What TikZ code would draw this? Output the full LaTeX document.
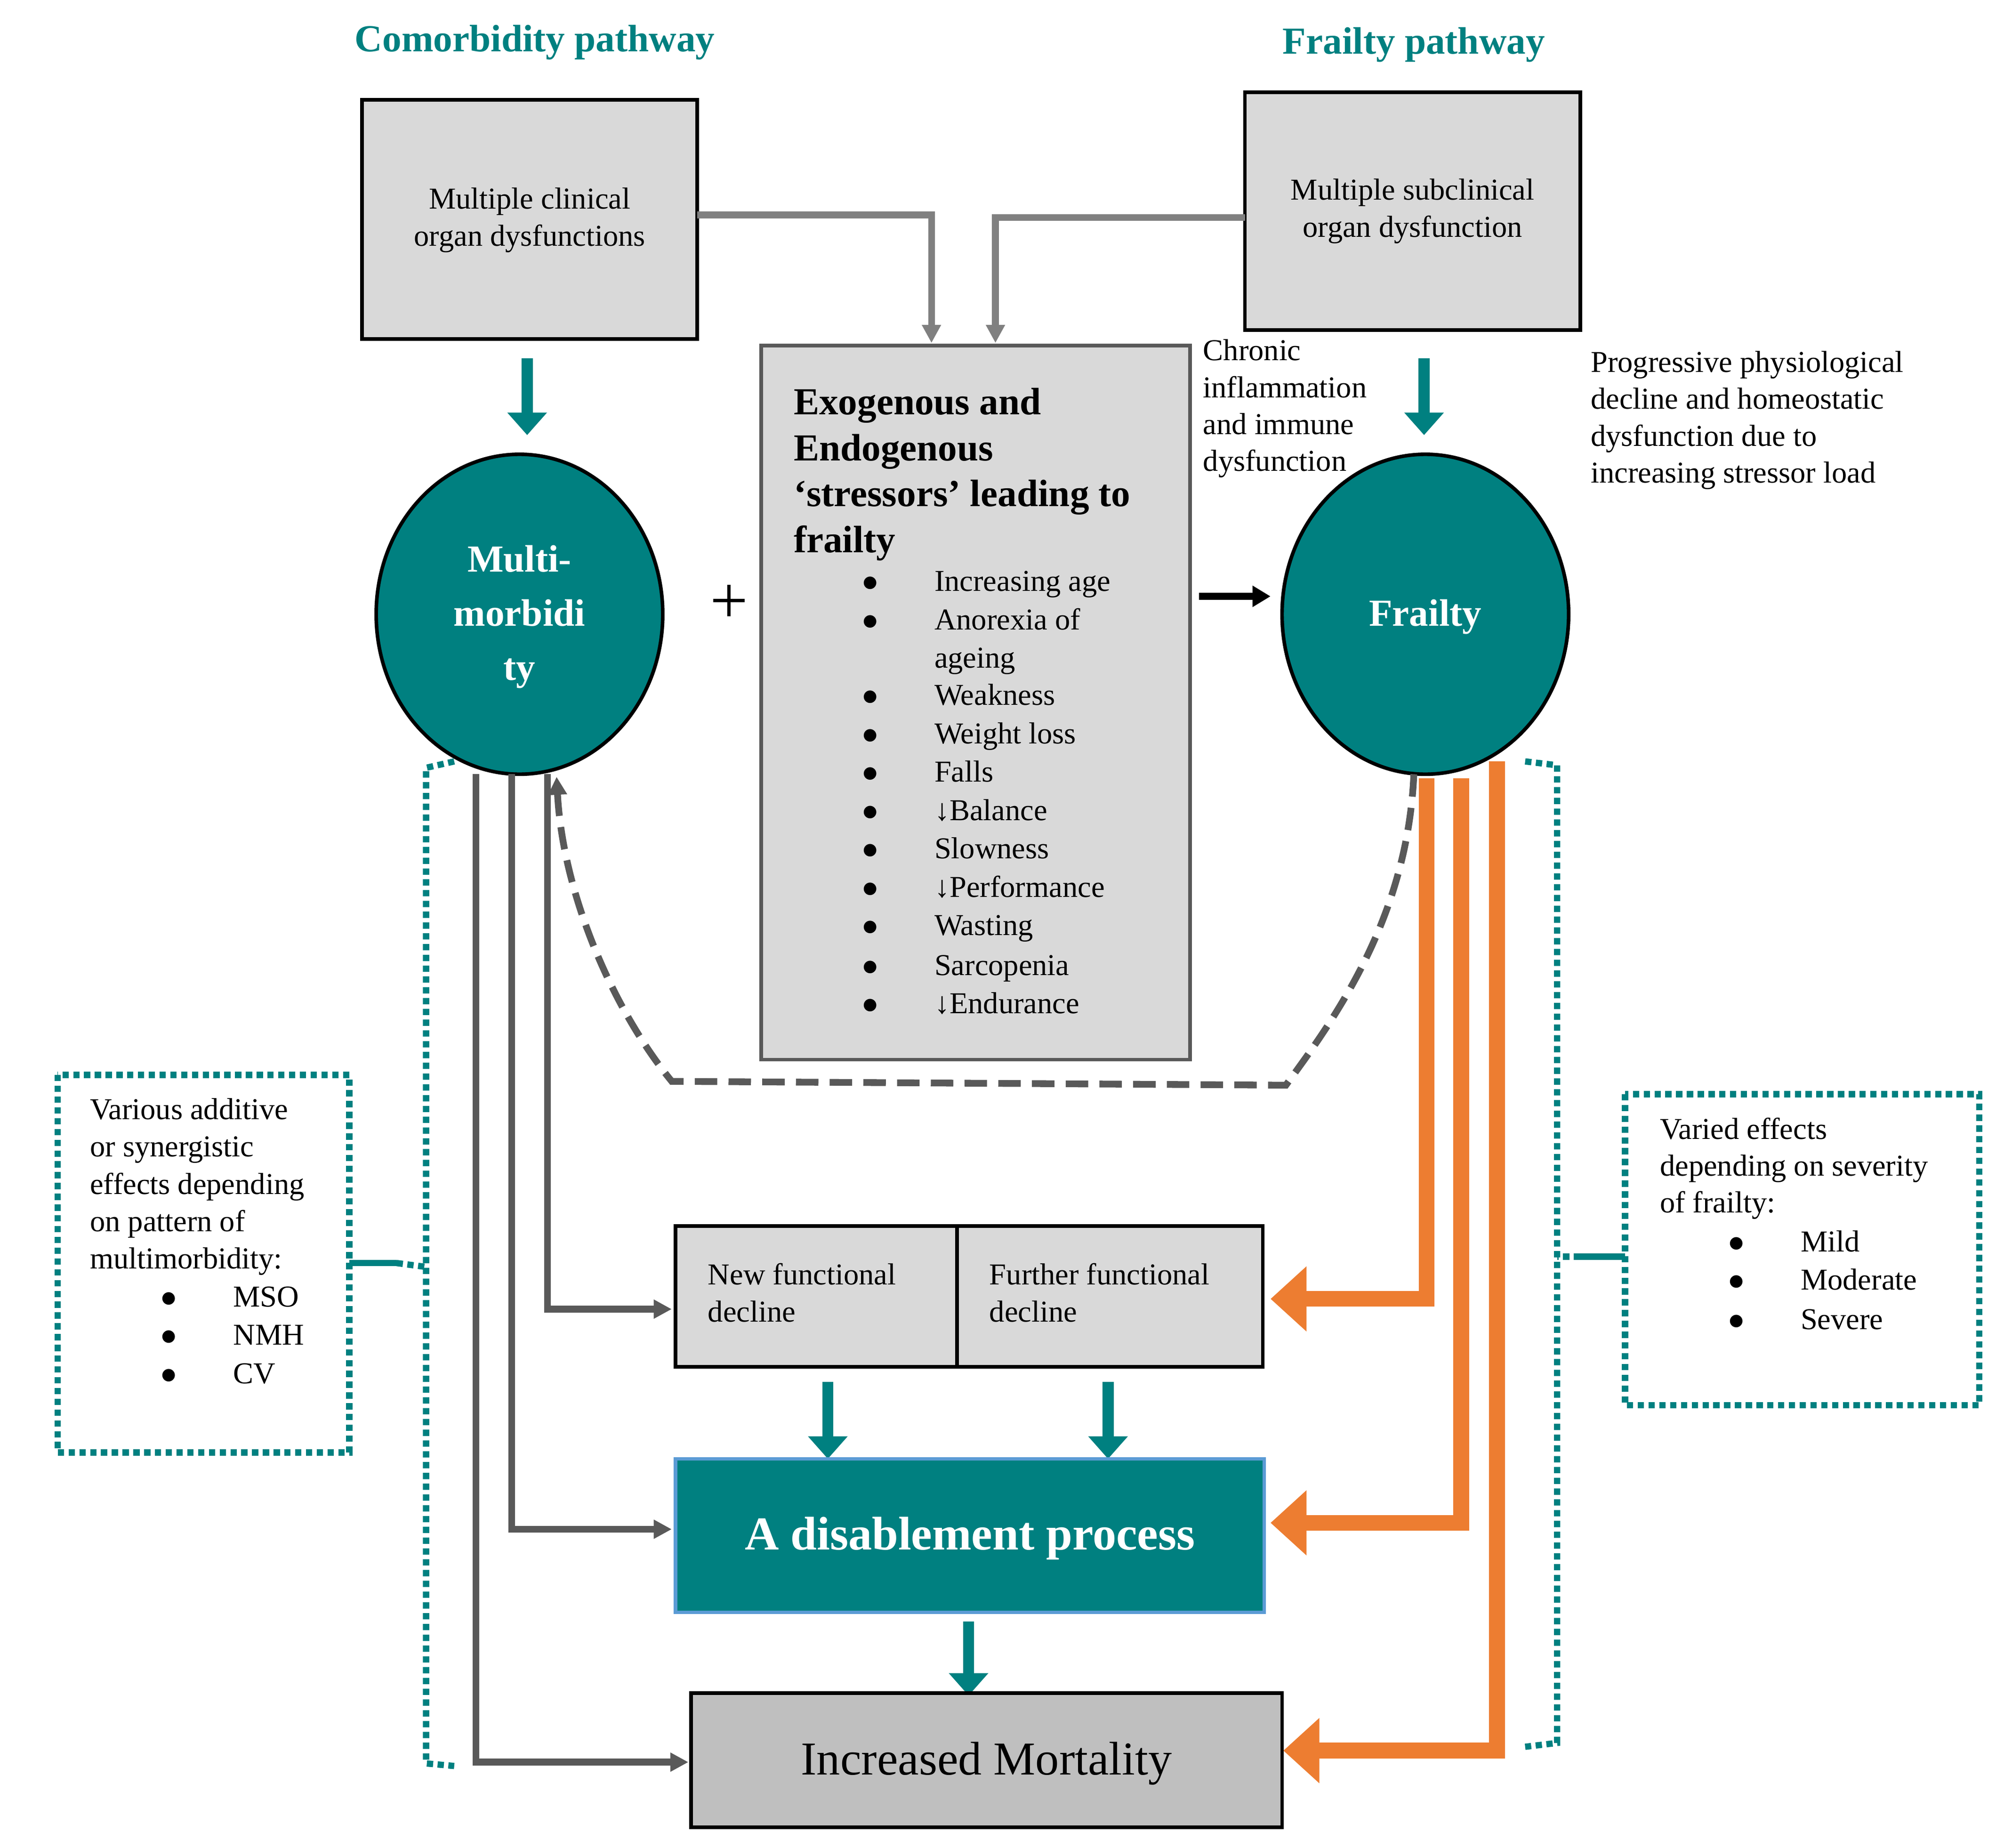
\documentclass[tikz,border=0pt]{standalone}
\usepackage{fontspec}
\setmainfont{Liberation Serif}
\usetikzlibrary{arrows.meta,shapes.geometric}
\definecolor{teal1}{HTML}{008080}
\definecolor{gbox}{HTML}{D9D9D9}
\definecolor{dg}{HTML}{595959}
\definecolor{org}{HTML}{ED7D31}
\definecolor{lb}{HTML}{5B9BD5}
\begin{document}
\begin{tikzpicture}[x=0.02cm,y=-0.02cm,
 txt/.style={font=\fontsize{13.5}{16.4}\selectfont,inner sep=0,align=left,anchor=north west},
 box/.style={draw=black,line width=1.6pt,fill=gbox},
 tarrow/.style={teal1,line width=5pt,-{Triangle[length=10pt,width=17pt]}},
 garrow/.style={gray,line width=3pt,-{Triangle[length=8pt,width=8pt]}},
 darrow/.style={dg,line width=3pt,-{Triangle[length=8pt,width=8pt]}},
 oarrow/.style={org,line width=7pt,-{Triangle[length=16pt,width=28pt]}},
 dots/.style={teal1,line width=2.8pt,dotted},
 bul/.style={font=\fontsize{13.5}{16}\selectfont,inner sep=0,anchor=base}]
\useasboundingbox (0,0) rectangle (1560,1444);
% titles
\node[teal1,font=\fontsize{17}{20}\selectfont\bfseries] (t1) at (418,33) {Comorbidity pathway};
\node[teal1,font=\fontsize{17}{20}\selectfont\bfseries] (t2) at (1105,35) {Frailty pathway};
% top boxes
\draw[box] (283,78) rectangle (545,265);
\node[font=\fontsize{13.5}{16.4}\selectfont,align=center] (b1) at (414,172) {Multiple clinical\\organ dysfunctions};
\draw[box] (973,72) rectangle (1235,258);
\node[font=\fontsize{13.5}{16.4}\selectfont,align=center] (b2) at (1104,165) {Multiple subclinical\\organ dysfunction};
% center box
\draw[draw=dg,line width=1.6pt,fill=gbox] (595,270) rectangle (930,828);
\node[font=\fontsize{17}{20.4}\selectfont\bfseries,inner sep=0,align=left,anchor=north west] (st) at (620,303) {Exogenous and\\Endogenous\\‘stressors’ leading to\\frailty};
\foreach \y/\t in {456/Increasing age,486/Anorexia of,545/Weakness,575/Weight loss,605/Falls,635/↓Balance,665/Slowness,695/↓Performance,725/Wasting,756/Sarcopenia,786/↓Endurance}{
 \node[bul] at (680,\y+6) {$\bullet$};
 \node[bul,anchor=base west] at (730,\y+6) {\t};}
\node[bul,anchor=base west] at (730,522) {ageing};
% gray arrows
\draw[garrow] (545,168) -- (728,168) -- (728,268);
\draw[garrow] (973,170) -- (778,170) -- (778,268);
% teal arrows
\draw[tarrow] (412,280) -- (412,340);
\draw[tarrow] (1113,280) -- (1113,340);
% circles
\node[ellipse,draw=black,line width=1.6pt,fill=teal1,minimum width=224*0.02cm,minimum height=250*0.02cm] (mm) at (406,480) {};
\node[white,font=\fontsize{17}{24}\selectfont\bfseries,align=center] at (406,482) {Multi-\\morbidi\\ty};
\node[ellipse,draw=black,line width=1.6pt,fill=teal1,minimum width=224*0.02cm,minimum height=250*0.02cm] (fr) at (1114,480) {};
\node[white,font=\fontsize{17}{20}\selectfont\bfseries] at (1114,482) {Frailty};
\node[font=\fontsize{30}{30}\selectfont] (plus) at (570,472) {+};
\draw[black,line width=3pt,-{Triangle[length=8pt,width=9pt]}] (937,466) -- (993,466);
\node[txt] (ci) at (940,265) {Chronic\\inflammation\\and immune\\dysfunction};
\node[txt] (pp) at (1243,274) {Progressive physiological\\decline and homeostatic\\dysfunction due to\\increasing stressor load};
% dashed feedback
\draw[dg,line width=3pt,dash pattern=on 10pt off 5pt,-{Triangle[length=8pt,width=8pt]}] (1105,605) .. controls (1100,720) and (1040,800) .. (1005,848) -- (525,845) .. controls (480,790) and (440,700) .. (435,607);
% dark lines
\draw[darrow] (428,605) -- (428,1023) -- (525,1023);
\draw[darrow] (400,605) -- (400,1195) -- (525,1195);
\draw[darrow] (372,605) -- (372,1377) -- (538,1377);
% orange
\draw[oarrow] (1115,608) -- (1115,1015) -- (993,1015);
\draw[oarrow] (1142,608) -- (1142,1190) -- (993,1190);
\draw[oarrow] (1170,595) -- (1170,1368) -- (1003,1368);
% functional boxes
\draw[box] (528,958) rectangle (748,1068);
\draw[box] (748,958) rectangle (987,1068);
\node[txt] (nf) at (553,987) {New functional\\decline};
\node[txt] (ff) at (773,987) {Further functional\\decline};
\draw[tarrow] (647,1080) -- (647,1140);
\draw[tarrow] (866,1080) -- (866,1140);
\draw[draw=lb,line width=1.6pt,fill=teal1] (528,1140) rectangle (988,1260);
\node[white,font=\fontsize{21}{24}\selectfont\bfseries] (dp) at (758,1202) {A disablement process};
\draw[tarrow] (757,1267) -- (757,1325);
\draw[draw=black,line width=1.6pt,fill=gray!50] (540,1323) rectangle (1002,1428);
\node[font=\fontsize{21}{24}\selectfont] (im) at (771,1378) {Increased Mortality};
% brackets
\draw[dots] (355,595) -- (333,600) -- (333,1378) -- (355,1380);
\draw[dots] (1192,595) -- (1217,598) -- (1217,1362) -- (1192,1365);
\draw[teal1,line width=2.8pt] (273,987) -- (310,987);
\draw[dots] (310,987) -- (333,990);
\draw[teal1,line width=2.8pt] (1270,982) -- (1235,982);
\draw[dots] (1235,982) -- (1217,982);
% side boxes
\draw[dots] (45,840) rectangle (273,1135);
\node[txt,font=\fontsize{13.5}{16.6}\selectfont] (lt) at (70,858) {Various additive\\or synergistic\\effects depending\\on pattern of\\multimorbidity:};
\foreach \y/\t in {1015/MSO,1045/NMH,1075/CV}{
 \node[bul] at (132,\y+6) {$\bullet$};
 \node[bul,anchor=base west] at (182,\y+6) {\t};}
\draw[dots] (1270,855) rectangle (1547,1098);
\node[txt] (rt) at (1297,873) {Varied effects\\depending on severity\\of frailty:};
\foreach \y/\t in {972/Mild,1002/Moderate,1033/Severe}{
 \node[bul] at (1357,\y+6) {$\bullet$};
 \node[bul,anchor=base west] at (1407,\y+6) {\t};}
\end{tikzpicture}
\end{document}
